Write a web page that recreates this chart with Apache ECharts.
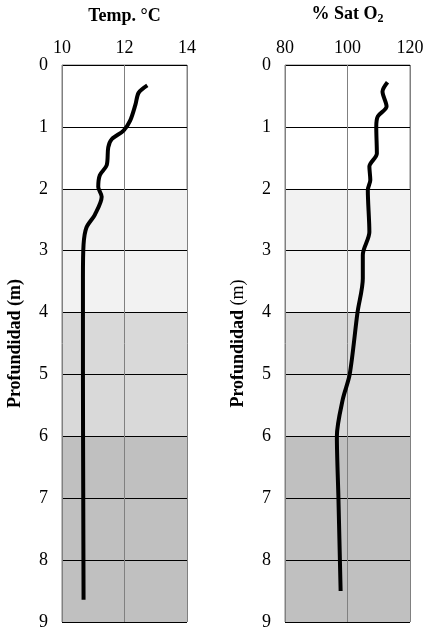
<!DOCTYPE html>
<html>
<head>
<meta charset="utf-8">
<script src="https://cdn.jsdelivr.net/npm/echarts@6/dist/echarts.min.js"></script>
<style>html,body{margin:0;padding:0;background:#fff}#main{width:429px;height:638px}</style>
</head>
<body>
<div id="main"></div>
<script>
// perfil de temperatura
var tempDepth = [0.33, 0.45, 0.64, 0.9, 1.06, 1.2, 1.33, 1.62, 1.78, 1.97, 2.13, 2.42, 2.63, 2.9, 3.43, 5, 7, 8.64];
var tempVal   = [12.73, 12.45, 12.35, 12.18, 11.97, 11.59, 11.48, 11.43, 11.21, 11.16, 11.27, 11.05, 10.78, 10.69, 10.67, 10.67, 10.68, 10.69];
// perfil de saturacion de oxigeno
var oxyDepth = [0.28, 0.43, 0.67, 0.83, 1.0, 1.43, 1.64, 1.86, 2.02, 2.7, 3.07, 3.45, 4, 5, 5.4, 6, 7, 8.5];
var oxyVal   = [112.8, 111.2, 112.5, 109.7, 109.2, 109.4, 107, 107.3, 106.5, 107, 104.9, 104.9, 103.2, 100.7, 98.5, 96.6, 97.1, 97.8];
// bandas de fondo
var bandLimits = [[2, 4], [4, 6], [6, 9]];
var bandColors = ['#f2f2f2', '#d9d9d9', '#c0c0c0'];

var font = 'Liberation Serif';
var chart = echarts.init(document.getElementById('main'));

function pairs(xs, ys) {
    var out = [];
    for (var i = 0; i < xs.length; i++) out.push([xs[i], ys[i]]);
    return out;
}
var bands = bandLimits.map(function (b, i) {
    return [{ yAxis: b[0], itemStyle: { color: bandColors[i] } }, { yAxis: b[1] }];
});

function xAx(idx, min, max, name) {
    return {
        gridIndex: idx, type: 'value', position: 'top', min: min, max: max, interval: (max - min) / 2, z: 3,
        name: name, nameLocation: 'middle', nameGap: 40,
        nameTextStyle: { fontFamily: font, fontSize: 18, fontWeight: 'bold', color: '#000',
            rich: { b: { fontFamily: font, fontSize: 18, fontWeight: 'bold' }, s: { fontFamily: font, fontSize: 12, fontWeight: 'bold', padding: [9, 0, 0, 0] } } },
        axisLine: { show: false }, axisTick: { show: false },
        axisLabel: { fontFamily: font, fontSize: 18, color: '#000', margin: 8 },
        splitLine: { show: true, lineStyle: { color: '#808080', width: 1 } }
    };
}
function yAx(idx, nameRich) {
    return {
        gridIndex: idx, type: 'value', inverse: true, min: 0, max: 9, interval: 1, z: 3,
        name: nameRich, nameLocation: 'middle', nameGap: 38, nameRotate: 90,
        nameTextStyle: { fontFamily: font, fontSize: 18, fontWeight: 'bold', color: '#000',
            rich: { n: { fontFamily: font, fontSize: 18, fontWeight: 'normal' }, b: { fontFamily: font, fontSize: 18, fontWeight: 'bold' } } },
        axisLine: { show: false }, axisTick: { show: false },
        axisLabel: { fontFamily: font, fontSize: 18, color: '#000', margin: 14 },
        splitLine: { show: true, lineStyle: { color: '#000', width: 1 } }
    };
}

function lineSeries(idx, xs, ys) {
    return { type: 'line', xAxisIndex: idx, yAxisIndex: idx, data: pairs(xs, ys), showSymbol: false, smooth: 0.3,
             lineStyle: { color: '#000', width: 4 }, z: 5 };
}
function bandSeries(idx) {
    return { type: 'line', xAxisIndex: idx, yAxisIndex: idx, data: [], z: 1,
             markArea: { silent: true, data: bands } };
}

var option = {
    animation: false,
    grid: [
        { left: 62, top: 65, width: 125, height: 557, show: true, borderColor: '#808080', borderWidth: 1, backgroundColor: 'transparent' },
        { left: 285, top: 65, width: 125, height: 557, show: true, borderColor: '#808080', borderWidth: 1, backgroundColor: 'transparent' }
    ],
    xAxis: [
        xAx(0, 10, 14, '{b|Temp. °C}'),
        xAx(1, 80, 120, '{b|% Sat O}{s|2}')
    ],
    yAxis: [
        yAx(0, '{b|Profundidad (m)}'),
        yAx(1, '{b|Profundidad }{n|(m)}')
    ],
    series: [
        bandSeries(0), bandSeries(1),
        lineSeries(0, tempVal, tempDepth),
        lineSeries(1, oxyVal, oxyDepth)
    ]
};
chart.setOption(option);
</script>
</body>
</html>
